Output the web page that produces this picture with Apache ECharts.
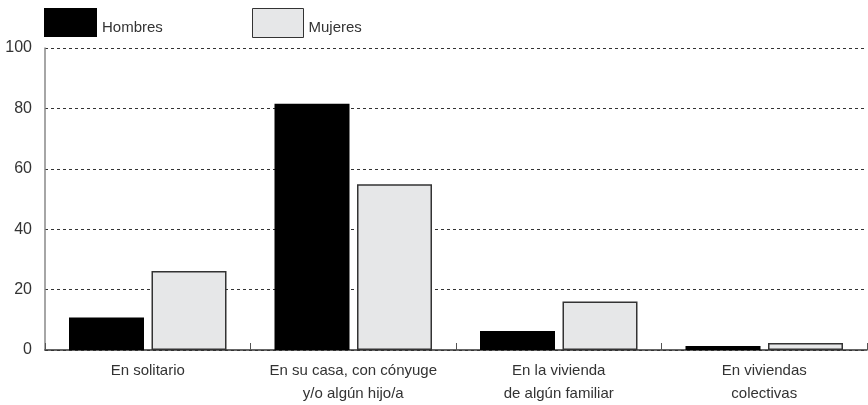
<!DOCTYPE html>
<html>
<head>
<meta charset="utf-8">
<script src="https://cdn.jsdelivr.net/npm/echarts@6/dist/echarts.min.js"></script>
<style>
  html, body { margin: 0; padding: 0; background: #fff; }
  #chart { width: 868px; height: 405px; }
</style>
</head>
<body>
<div id="chart"></div>
<script>
// datos del gráfico
const categories = ['En solitario', 'En su casa, con cónyuge\ny/o algún hijo/a', 'En la vivienda\nde algún familiar', 'En viviendas\ncolectivas']
const hombres = [10.8, 81.5, 6.3, 1.3]
const mujeres = [26.2, 54.9, 16.1, 2.3]
const yTicks = [0, 20, 40, 60, 80, 100]

const font = '"Liberation Sans", Arial, sans-serif'
const textColor = '#333'

// texto de leyenda un poco más bajo que el centro del cuadro
const legendText = {
  fontSize: 15,
  color: textColor,
  fontFamily: font,
  rich: {
    t: { fontSize: 15, color: textColor, fontFamily: font, padding: [10, 0, 0, 0] }
  }
}

const chart = echarts.init(document.getElementById('chart'))
chart.setOption({
  animation: false,
  textStyle: { fontFamily: font },
  legend: [
    {
      data: ['Hombres'],
      left: 44,
      top: 8,
      padding: 0,
      itemWidth: 53,
      itemHeight: 29,
      icon: 'rect',
      formatter: '{t|{name}}',
      textStyle: legendText
    },
    {
      data: ['Mujeres'],
      left: 252,
      top: 8,
      padding: 0,
      itemWidth: 51,
      itemHeight: 29,
      icon: 'rect',
      itemStyle: { borderWidth: 1 },
      formatter: '{t|{name}}',
      textStyle: legendText
    }
  ],
  grid: {
    left: 45,
    right: 1,
    top: 48,
    bottom: 53,
    containLabel: false
  },
  xAxis: {
    type: 'category',
    data: categories,
    axisLine: { lineStyle: { color: '#333', width: 1.5 } },
    axisTick: { show: true, inside: true, length: 7, lineStyle: { color: '#555' } },
    axisLabel: {
      interval: 0,
      fontSize: 15,
      color: textColor,
      margin: 9,
      lineHeight: 23,
      fontFamily: font
    }
  },
  yAxis: {
    type: 'value',
    min: yTicks[0],
    max: yTicks[yTicks.length - 1],
    interval: 20,
    axisLine: { show: true, lineStyle: { color: '#888', width: 1.5 } },
    axisTick: { show: false },
    axisLabel: { fontSize: 16, color: textColor, margin: 13, fontFamily: font },
    splitLine: { lineStyle: { color: '#333', type: [3, 3], width: 1 } }
  },
  series: [
    {
      name: 'Hombres',
      type: 'bar',
      data: hombres,
      barWidth: 75,
      barGap: '10%',
      itemStyle: { color: '#000', borderColor: '#000', borderWidth: 0 }
    },
    {
      name: 'Mujeres',
      type: 'bar',
      data: mujeres,
      barWidth: 75,
      itemStyle: { color: '#e6e7e8', borderColor: '#333', borderWidth: 1.5 }
    }
  ]
})
</script>
</body>
</html>
